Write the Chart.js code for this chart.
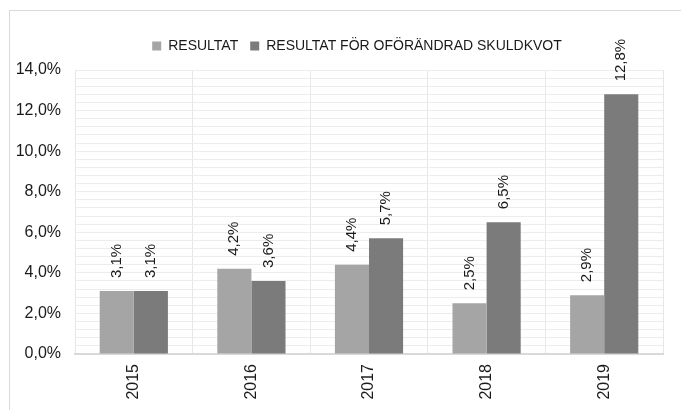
<!DOCTYPE html>
<html>
<head>
<meta charset="utf-8">
<script src="https://cdn.jsdelivr.net/npm/chart.js@4/dist/chart.umd.min.js"></script>
<style>
  html, body { margin: 0; padding: 0; background: #fff; }
  #wrap { position: relative; width: 681px; height: 410px; overflow: hidden; }
  #frame { position: absolute; left: 9px; top: 10px; width: 700px; height: 430px; border: 1px solid #d9d9d9; }
  canvas { position: absolute; left: 0; top: 0; }
</style>
</head>
<body>
<div id="wrap">
  <div id="frame"></div>
  <canvas id="myChart" width="681" height="410"></canvas>
</div>
<script>
var years = ["2015", "2016", "2017", "2018", "2019"];
var resultat = [3.1, 4.2, 4.4, 2.5, 2.9];
var oforandrad = [3.1, 3.6, 5.7, 6.5, 12.8];
var seriesNames = ["RESULTAT", "RESULTAT FÖR OFÖRÄNDRAD SKULDKVOT"];

var fontFam = "'Liberation Sans', Arial, sans-serif";

function pct(v) {
    return v.toFixed(1).replace(".", ",") + "%";
}

// etiketter ovanför staplarna, roterade
var barLabels = {
    id: "barLabels",
    afterDatasetsDraw: function (chart) {
        var ctx = chart.ctx;
        ctx.save();
        ctx.font = "15px " + fontFam;
        ctx.fillStyle = "#1a1a1a";
        ctx.textAlign = "left";
        ctx.textBaseline = "middle";
        chart.data.datasets.forEach(function (ds, i) {
            chart.getDatasetMeta(i).data.forEach(function (bar, j) {
                ctx.save();
                ctx.translate(bar.x, bar.y - 13);
                ctx.rotate(-Math.PI / 2);
                ctx.fillText(pct(ds.data[j]), 0, 0);
                ctx.restore();
            });
        });
        ctx.restore();
    }
};

// flytta legenden lite åt höger och uppåt, som i förlagan
var shiftLegend = {
    id: "shiftLegend",
    afterLayout: function (chart) {
        if (chart.legend) {
            chart.legend.left += 18;
            chart.legend.right += 18;
            chart.legend.top -= 7;
            chart.legend.bottom -= 7;
        }
    }
};

new Chart("myChart", {
    type: "bar",
    data: {
        labels: years,
        datasets: [{
            label: seriesNames[0],
            data: resultat,
            backgroundColor: "#a5a5a5"
        }, {
            label: seriesNames[1],
            data: oforandrad,
            backgroundColor: "#7b7b7b"
        }]
    },
    options: {
        responsive: false,
        animation: false,
        categoryPercentage: 0.58,
        barPercentage: 1.0,
        layout: { padding: { left: 15, right: 18, top: 34, bottom: 10 } },
        plugins: {
            legend: {
                position: "top",
                labels: {
                    boxWidth: 9,
                    boxHeight: 9,
                    padding: 12,
                    color: "#1a1a1a",
                    font: { family: fontFam, size: 14 }
                }
            },
            tooltip: { enabled: false }
        },
        scales: {
            x: {
                grid: { color: "#e6e6e6", offset: true, drawTicks: false },
                border: { color: "#d9d9d9", width: 2 },
                ticks: {
                    minRotation: 90,
                    maxRotation: 90,
                    padding: 10,
                    color: "#1a1a1a",
                    font: { family: fontFam, size: 16 }
                },
                afterFit: function (s) { s.height = 46; }
            },
            y: {
                min: 0,
                max: 14,
                grid: { color: "#ececec", drawTicks: false },
                border: { display: false },
                ticks: {
                    stepSize: 0.4,
                    maxTicksLimit: 100,
                    autoSkip: false,
                    padding: 14,
                    color: "#1a1a1a",
                    font: { family: fontFam, size: 16 },
                    callback: function (v) {
                        var r = Math.round(v * 10) / 10;
                        return Math.abs(r / 2 - Math.round(r / 2)) < 0.01 ? pct(r) : "";
                    }
                },
                afterFit: function (s) { s.width = 60; }
            }
        }
    },
    plugins: [barLabels, shiftLegend]
});
</script>
</body>
</html>
